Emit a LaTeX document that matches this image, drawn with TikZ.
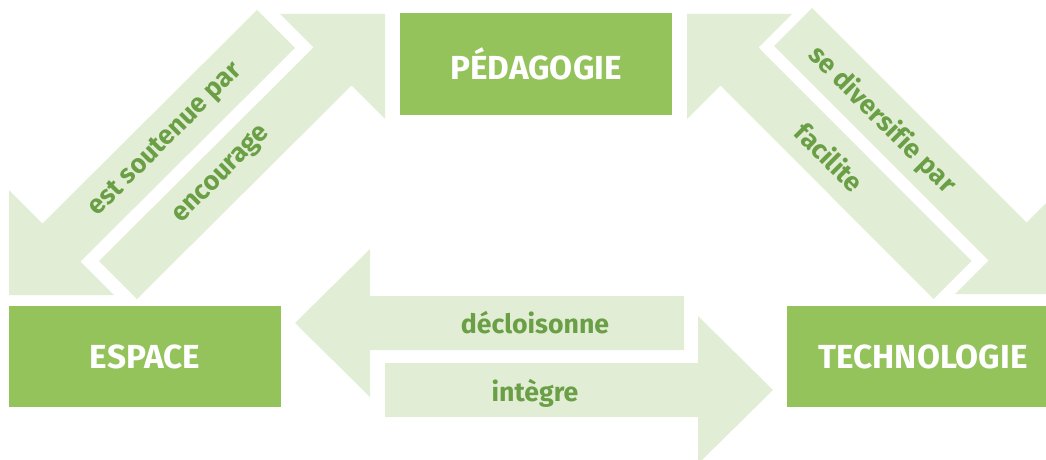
\documentclass[tikz,border=0pt]{standalone}
\usepackage{fontspec}
\setmainfont{Fira Sans}[Ligatures=NoCommon]

\definecolor{boxgreen}{HTML}{94C35C}
\definecolor{bandgreen}{HTML}{E2EDD5}
\definecolor{labelgreen}{HTML}{6A9F46}

\tikzset{
    box/.style={fill=boxgreen, text=white, inner sep=0pt,
        minimum width=204pt, minimum height=75.75pt,
        font=\fontsize{25}{30}\selectfont\bfseries},
    band/.style={fill=bandgreen},
    verb/.style={text=labelgreen, inner sep=0pt,
        font=\fontsize{20}{24}\selectfont\bfseries},
}

\begin{document}
\begin{tikzpicture}[x=0.75pt, y=-0.75pt]
        \useasboundingbox (0,0) rectangle (1046,460);
        \clip (0,0) rectangle (1046,460);

        % block arrows
        \fill[band] (9,295) -- (114,295) -- (80.5,261.5) -- (295,48) -- (257,10) -- (42.5,223.5) -- (9,190) -- cycle;
        \fill[band] (385,14) -- (385,119) -- (351.5,85.5) -- (137,299) -- (99,261) -- (313.5,47.5) -- (280,14) -- cycle;
        \fill[band] (687,14) -- (792,14) -- (758.5,47.5) -- (971.5,261) -- (933.5,299) -- (720.5,85.5) -- (687,119) -- cycle;
        \fill[band] (1060,294) -- (955,294) -- (988.5,260.5) -- (774,46) -- (812,8) -- (1026.5,222.5) -- (1060,189) -- cycle;
        \fill[band] (295,323) -- (370,249) -- (370,296) -- (684,296) -- (684,350) -- (370,350) -- (370,397) -- cycle;
        \fill[band] (773,390) -- (698,316) -- (698,363) -- (385,363) -- (385,417) -- (698,417) -- (698,464) -- cycle;

        \node[box] (ped)  at (536,64)    {PÉDAGOGIE};
        \node[box] (esp)  at (145,356.5) {ESPACE};
        \node[box] (tech) at (923,356.5) {TECHNOLOGIE};

        \node[verb, rotate=45]  (soutenue) at (166,140) {est soutenue par};
        \node[verb, rotate=45]  (encour)   at (222,175) {encourage};
        \node[verb, rotate=-45] (diversif) at (882,120) {se diversifie par};
        \node[verb, rotate=-45] (facil)    at (830,157) {facilite};
        \node[verb, anchor=base] (decl)    at (535,333) {décloisonne};
        \node[verb, anchor=base] (integ)   at (535,401) {intègre};
    \end{tikzpicture}
\end{document}
